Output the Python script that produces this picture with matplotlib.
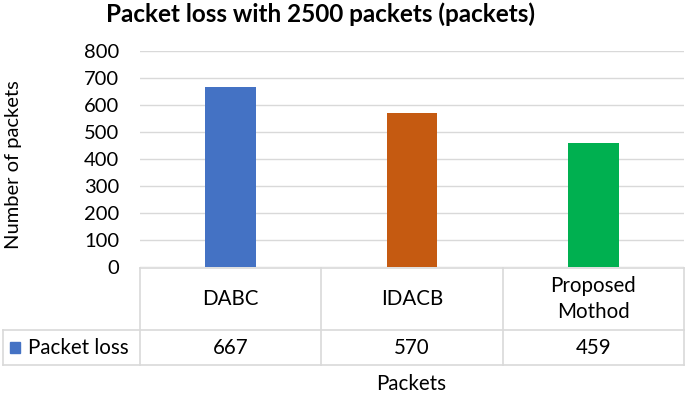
import matplotlib.pyplot as plt
import matplotlib.transforms as mtransforms

# data
methods = ["DABC", "IDACB", "Proposed\nMothod"]
packet_loss = [667, 570, 459]
bar_colors = ["#4472C4", "#C55A11", "#00B050"]
series_name = "Packet loss"
y_ticks = [0, 100, 200, 300, 400, 500, 600, 700, 800]

plt.rcParams['font.family'] = ['Lato', 'DejaVu Sans']

W, H = 685, 394
fig = plt.figure(figsize=(W / 100, H / 100), dpi=100)

# plot area in pixels
left_px, right_px, top_px, bot_px = 140, 684, 51, 267
ax = fig.add_axes([left_px / W, (H - bot_px) / H,
                   (right_px - left_px) / W, (bot_px - top_px) / H])

x = list(range(len(methods)))
ax.bar(x, packet_loss, width=0.28, color=bar_colors, zorder=3)

ax.set_xlim(-0.5, len(methods) - 0.5)
ax.set_ylim(0, 800)
ax.set_yticks(y_ticks)
ax.tick_params(axis='y', length=0, labelsize=14.5, pad=15)
ax.set_xticks([])
ax.yaxis.grid(True, color="#D9D9D9", linewidth=1)
for s in ax.spines.values():
    s.set_visible(False)

# data table below the plot
grid_c = "#D9D9D9"
px_per_unit = (right_px - left_px) / len(methods)
ax_h = bot_px - top_px
def ay(py):
    return (bot_px - py) / ax_h
def dx(px):
    return (px - left_px) / px_per_unit - 0.5

trans = mtransforms.blended_transform_factory(ax.transData, ax.transAxes)
row1_top, row1_bot, row2_bot = 268, 330, 365
table_left = 3
fs = 14.8

def tline(xs, ys):
    ax.plot(xs, ys, color=grid_c, lw=1.2, transform=trans, clip_on=False)

tline([-0.5, len(methods) - 0.5], [ay(row1_top)] * 2)
tline([dx(table_left), len(methods) - 0.5], [ay(row1_bot)] * 2)
tline([dx(table_left), len(methods) - 0.5], [ay(row2_bot)] * 2)
tline([dx(table_left)] * 2, [ay(row1_bot), ay(row2_bot)])
for i in range(len(methods) + 1):
    tline([i - 0.5] * 2, [ay(row1_top), ay(row2_bot)])

for i, (m, v) in enumerate(zip(methods, packet_loss)):
    ax.text(i, ay((row1_top + row1_bot) / 2), m, transform=trans,
            ha='center', va='center', fontsize=fs, linespacing=1.4)
    ax.text(i, ay((row1_bot + row2_bot) / 2), str(v), transform=trans,
            ha='center', va='center', fontsize=fs)

# legend key in table
ax.add_patch(plt.Rectangle((dx(10), ay(353)), 10 / px_per_unit, 11 / ax_h,
                           color=bar_colors[0], transform=trans, clip_on=False))
ax.text(dx(28), ay((row1_bot + row2_bot) / 2), series_name, transform=trans,
        ha='left', va='center', fontsize=fs)

fig.text(321 / W, 1 - 14 / H, "Packet loss with 2500 packets (packets)",
         ha='center', va='center', fontsize=17.5, fontweight='bold')
fig.text(14 / W, 1 - 165 / H, "Number of packets", rotation=90,
         ha='center', va='center', fontsize=14.5)
fig.text(411 / W, 1 - 384 / H, "Packets", ha='center', va='center', fontsize=fs)

fig.savefig("out.png", dpi=100)
